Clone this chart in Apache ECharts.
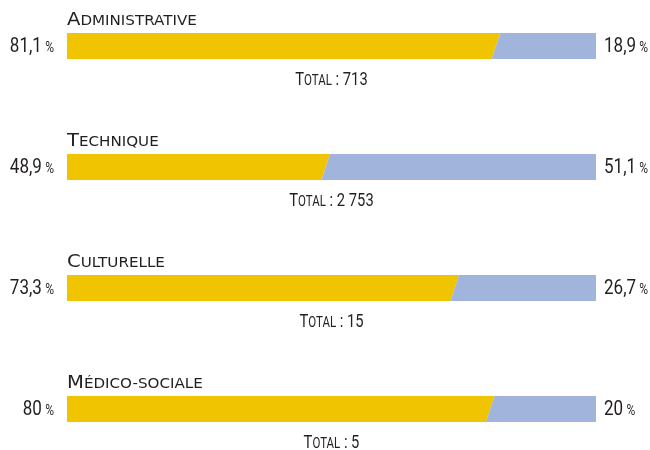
<!DOCTYPE html>
<html><head><meta charset="utf-8">
<script src="https://cdn.jsdelivr.net/npm/echarts@6/dist/echarts.min.js"></script>
<style>html,body{margin:0;padding:0;background:#fff}#c{width:650px;height:450px}</style>
</head><body><div id="c"></div>
<script>
const categories = ['Administrative', 'Technique', 'Culturelle', 'Médico-sociale'];
const shareYellow = [81.1, 48.9, 73.3, 80];
const shareBlue = [18.9, 51.1, 26.7, 20];
const totals = [713, 2753, 15, 5];

const YELLOW = '#F0C400', BLUE = '#A1B5DC', INK = '#231F20';
const NUM_FONT = "Roboto,sans-serif";
const CAT_FONT = "'DejaVu Sans',sans-serif";
const NUM_SCALE = 0.83;

function fmt(v) { return String(v).replace('.', ','); }
function fmtInt(n) { return String(n).replace(/\B(?=(\d{3})+(?!\d))/g, ' '); }
function smallCaps(word) {
  return '{a|' + word.charAt(0).toUpperCase() + '}{b|' + word.slice(1).toUpperCase() + '}';
}
const pctRich = {
  n: { fontFamily: NUM_FONT, fontSize: 20.5, fill: INK, verticalAlign: 'bottom' },
  p: { fontFamily: NUM_FONT, fontSize: 14.5, fill: INK, verticalAlign: 'bottom', padding: [0, 0, 1, 4] }
};

const chart = echarts.init(document.getElementById('c'));
chart.setOption({
  animation: false,
  grid: { left: 67, right: 54, top: 46, bottom: 41 },
  xAxis: { type: 'value', min: 0, max: 100, show: false },
  yAxis: { type: 'category', data: categories, inverse: true, boundaryGap: false, show: false },
  series: [{
    type: 'custom',
    encode: { x: 1, y: 0 },
    data: categories.map((c, i) => [i, shareYellow[i], shareBlue[i], totals[i]]),
    renderItem(params, api) {
      const i = api.value(0), v = api.value(1), b = api.value(2), t = api.value(3);
      const h = 26, s = 4.3;
      const p0 = api.coord([0, i]), p1 = api.coord([100, i]), pm = api.coord([v, i]);
      const yc = p0[1], yt = yc - h / 2, yb = yc + h / 2;
      const xm = pm[0];
      return {
        type: 'group',
        children: [
          { type: 'polygon', shape: { points: [[p0[0], yt], [xm + s, yt], [xm - s, yb], [p0[0], yb]] }, style: { fill: YELLOW } },
          { type: 'polygon', shape: { points: [[xm + s, yt], [p1[0], yt], [p1[0], yb], [xm - s, yb]] }, style: { fill: BLUE } },
          { type: 'text', x: p0[0], y: yt - 4, scaleX: 1.12, style: {
              text: smallCaps(categories[i]), align: 'left', verticalAlign: 'bottom', fill: INK,
              rich: {
                a: { fontFamily: CAT_FONT, fontSize: 17.5, fill: INK, verticalAlign: 'bottom' },
                b: { fontFamily: CAT_FONT, fontSize: 13.5, fill: INK, verticalAlign: 'bottom', padding: [0, 0, 1, 0] }
              } } },
          { type: 'text', x: p0[0] - 13, y: yc + 11, scaleX: NUM_SCALE, style: {
              text: '{n|' + fmt(v) + '}{p|%}', align: 'right', verticalAlign: 'bottom', fill: INK, rich: pctRich } },
          { type: 'text', x: p1[0] + 8, y: yc + 11, scaleX: NUM_SCALE, style: {
              text: '{n|' + fmt(b) + '}{p|%}', align: 'left', verticalAlign: 'bottom', fill: INK, rich: pctRich } },
          { type: 'text', x: (p0[0] + p1[0]) / 2, y: yb + 30, scaleX: 0.82, style: {
              text: '{a|T}{b|OTAL}{a| : ' + fmtInt(t) + '}', align: 'center', verticalAlign: 'bottom', fill: INK,
              rich: {
                a: { fontFamily: NUM_FONT, fontSize: 18, fill: INK, verticalAlign: 'bottom' },
                b: { fontFamily: NUM_FONT, fontSize: 14, fill: INK, verticalAlign: 'bottom', padding: [0, 0, 1, 0] }
              } } }
        ]
      };
    }
  }]
});
</script></body></html>
